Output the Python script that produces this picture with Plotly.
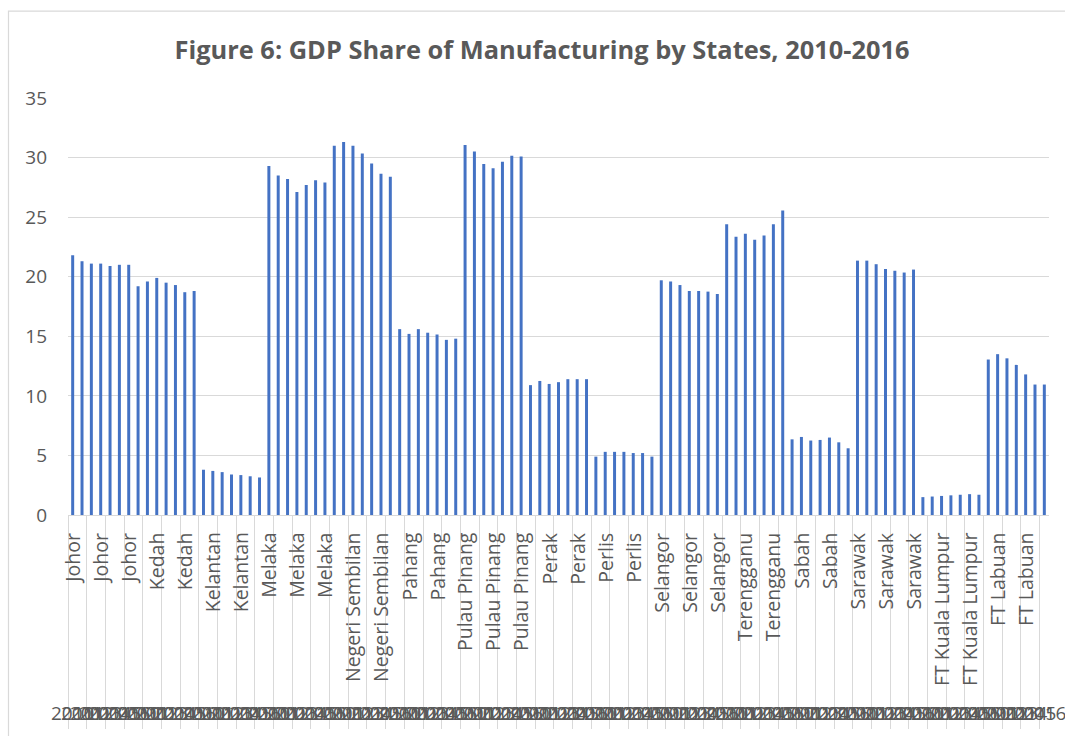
import plotly.graph_objects as go

states = ["Johor", "Kedah", "Kelantan", "Melaka", "Negeri Sembilan", "Pahang",
          "Pulau Pinang", "Perak", "Perlis", "Selangor", "Terengganu", "Sabah",
          "Sarawak", "FT Kuala Lumpur", "FT Labuan"]
years = ["2010", "2011", "2012", "2013", "2014", "2015", "2016"]

johor = [21.8, 21.3, 21.1, 21.1, 20.9, 21.0, 21.0]
kedah = [19.2, 19.6, 19.9, 19.5, 19.3, 18.7, 18.8]
kelantan = [3.8, 3.7, 3.6, 3.4, 3.35, 3.25, 3.15]
melaka = [29.3, 28.5, 28.2, 27.1, 27.7, 28.1, 27.9]
negeri_sembilan = [31.0, 31.3, 31.0, 30.35, 29.5, 28.65, 28.4]
pahang = [15.6, 15.2, 15.6, 15.3, 15.15, 14.7, 14.8]
pulau_pinang = [31.05, 30.5, 29.45, 29.1, 29.65, 30.15, 30.1]
perak = [10.9, 11.25, 11.0, 11.15, 11.4, 11.4, 11.4]
perlis = [4.9, 5.3, 5.3, 5.3, 5.2, 5.2, 4.9]
selangor = [19.7, 19.6, 19.3, 18.8, 18.8, 18.75, 18.55]
terengganu = [24.4, 23.35, 23.6, 23.1, 23.45, 24.4, 25.55]
sabah = [6.35, 6.55, 6.25, 6.3, 6.5, 6.1, 5.6]
sarawak = [21.35, 21.35, 21.05, 20.65, 20.5, 20.35, 20.6]
ft_kuala_lumpur = [1.5, 1.55, 1.6, 1.65, 1.7, 1.75, 1.7]
ft_labuan = [13.05, 13.5, 13.15, 12.6, 11.8, 10.95, 10.95]

series_by_state = [johor, kedah, kelantan, melaka, negeri_sembilan, pahang,
                   pulau_pinang, perak, perlis, selangor, terengganu, sabah,
                   sarawak, ft_kuala_lumpur, ft_labuan]

cats, vals, cat_state, cat_year = [], [], [], []
for s, arr in zip(states, series_by_state):
    for y, v in zip(years, arr):
        cats.append(f"{s} {y}")
        vals.append(v)
        cat_state.append(s)
        cat_year.append(y)

W, H = 1065, 736
L, R, T, B = 68, 16.3, 97.5, 220.5
pw, ph = W - L - R, H - T - B

def px2x(px):
    return (px - L) / pw

def py2y(py):
    return (H - B - py) / ph

TXT = "#595959"
FONT = "Open Sans"
GRID = "#d9d9d9"

fig = go.Figure()
fig.add_trace(go.Bar(x=cats, y=vals, marker=dict(color="#4472C4", line=dict(width=0)),
                     hoverinfo="x+y"))

annotations = []
# state labels (every third category)
for i in range(0, len(cats), 3):
    annotations.append(dict(x=cats[i], xref="x", y=py2y(531), yref="paper",
                            text=cat_state[i], textangle=-90, showarrow=False,
                            xanchor="center", yanchor="top",
                            font=dict(family=FONT, size=19.5, color=TXT)))
# year labels (all, overlapping like the original)
for i in range(len(cats)):
    annotations.append(dict(x=cats[i], xref="x", y=py2y(713.5), yref="paper",
                            text=cat_year[i], showarrow=False,
                            xanchor="center", yanchor="middle",
                            font=dict(family=FONT, size=19, color=TXT)))

fig.update_layout(
    width=W, height=H,
    margin=dict(l=L, r=R, t=T, b=B, pad=0, autoexpand=False),
    paper_bgcolor="white", plot_bgcolor="white",
    bargap=0.68,
    showlegend=False,
    title=dict(text="<b>Figure 6: GDP Share of Manufacturing by States, 2010-2016</b>",
               x=542 / W, xanchor="center", y=1 - 50 / H, yanchor="middle",
               font=dict(family=FONT, size=25.4, color=TXT)),
    annotations=annotations,
    shapes=[dict(type="rect", xref="paper", yref="paper",
                 x0=px2x(8.5), x1=px2x(1080), y0=py2y(760), y1=py2y(10.5),
                 line=dict(color=GRID, width=1.2), fillcolor="rgba(0,0,0,0)",
                 layer="below")],
)
fig.update_xaxes(type="category", range=[-0.5, len(cats) - 0.5], autorange=False,
                 showticklabels=False, tickson="boundaries",
                 ticks="outside", ticklen=213, tickcolor=GRID, tickwidth=1,
                 showline=True, linecolor=GRID, linewidth=1.2, showgrid=False,
                 zeroline=False, automargin=False)
fig.update_yaxes(range=[0, 35], autorange=False, dtick=5, showgrid=True,
                 gridcolor=GRID, gridwidth=1.2,
                 zeroline=False, showline=False, ticks="",
                 ticklabelstandoff=20, automargin=False,
                 tickfont=dict(family=FONT, size=19, color=TXT))

fig.write_html("out.html", config={"displayModeBar": False},
               post_script="document.body.style.margin='0';")
